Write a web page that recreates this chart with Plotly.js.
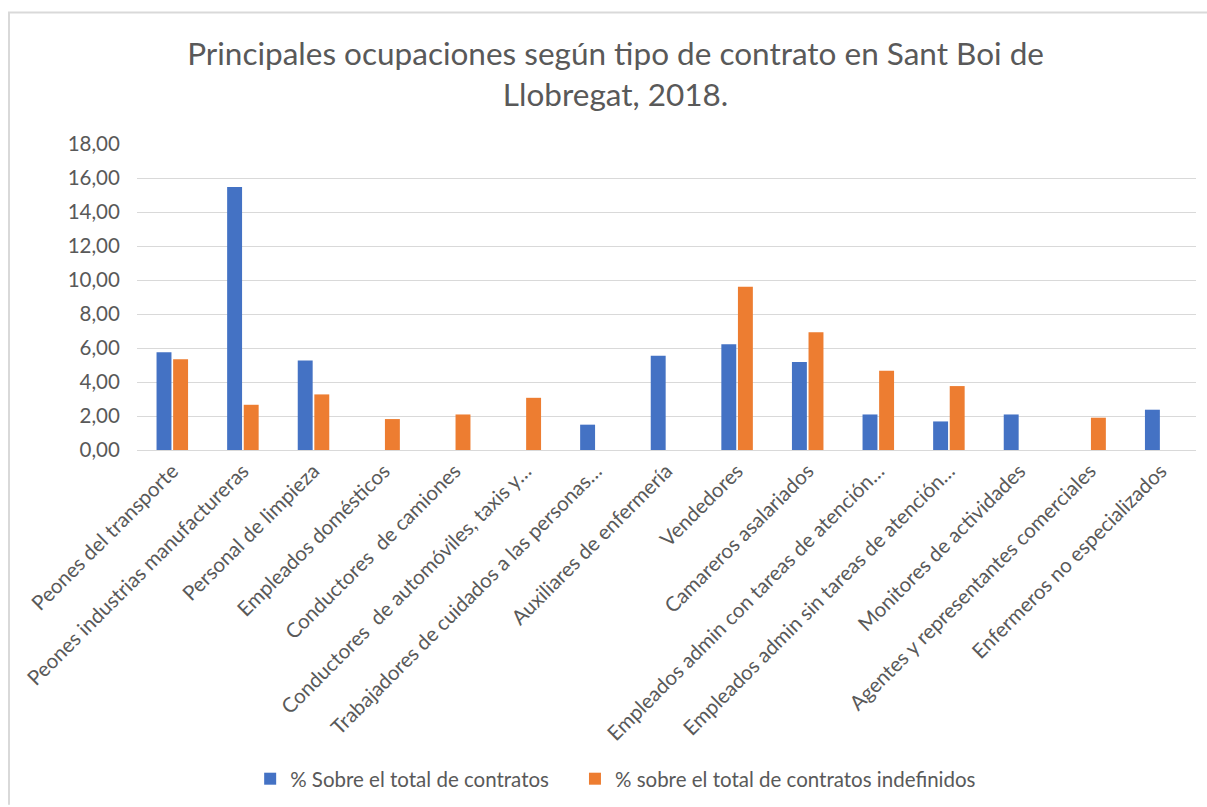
<!DOCTYPE html>
<html>
<head>
<meta charset="utf-8">
<script src="https://cdn.plot.ly/plotly-3.0.1.min.js"></script>
<style>
  html, body { margin: 0; padding: 0; background: #ffffff; }
  #chart { width: 1207px; height: 807px; }
</style>
</head>
<body>
<div id="chart"></div>
<script>
const categories = [
  "Peones del transporte",
  "Peones industrias manufactureras",
  "Personal de limpieza",
  "Empleados domésticos",
  "Conductores\u00a0 de camiones",
  "Conductores\u00a0 de automóviles, taxis y…",
  "Trabajadores de cuidados a las personas…",
  "Auxiliares de enfermería",
  "Vendedores",
  "Camareros asalariados",
  "Empleados admin con tareas de atención…",
  "Empleados admin sin tareas de atención…",
  "Monitores de actividades",
  "Agentes y representantes comerciales",
  "Enfermeros no especializados"
];
const seriesTotal = [5.75, 15.47, 5.26, null, null, null, 1.49, 5.54, 6.22, 5.18, 2.09, 1.68, 2.09, null, 2.37];
const seriesIndef = [5.34, 2.66, 3.27, 1.82, 2.09, 3.07, null, null, 9.60, 6.92, 4.66, 3.76, null, 1.90, null];
const seriesNames = ["% Sobre el total de contratos", "% sobre el total de contratos indefinidos"];
const yTicks = [0, 2, 4, 6, 8, 10, 12, 14, 16, 18];
const yTickLabels = ["0,00", "2,00", "4,00", "6,00", "8,00", "10,00", "12,00", "14,00", "16,00", "18,00"];

const FONT = "Lato, 'Open Sans', sans-serif";
const TXT = "#595959";

const traces = [
  { type: "bar", name: seriesNames[0] + "\u00a0\u00a0\u00a0\u00a0", x: categories, y: seriesTotal,
    marker: { color: "#4472C4" }, hoverinfo: "x+y" },
  { type: "bar", name: seriesNames[1], x: categories, y: seriesIndef,
    marker: { color: "#ED7D31" }, hoverinfo: "x+y" }
];

const layout = {
  width: 1207, height: 807,
  paper_bgcolor: "#ffffff", plot_bgcolor: "#ffffff",
  margin: { l: 137, r: 11, t: 144, b: 356, pad: 0 },
  font: { family: FONT, color: TXT, size: 20 },
  title: {
    text: "Principales ocupaciones según tipo de contrato en Sant Boi de<br>Llobregat, 2018.",
    font: { family: FONT, size: 31.5, color: TXT },
    x: 0.51, xanchor: "center", y: 0.92, yanchor: "top"
  },
  barmode: "group",
  bargap: 0.53,
  bargroupgap: 0.1,
  showlegend: true,
  legend: {
    orientation: "h", x: 0.452, xanchor: "center", y: -1.068, yanchor: "middle",
    font: { family: FONT, size: 20.5, color: TXT },
    traceorder: "normal"
  },
  xaxis: {
    type: "category",
    tickangle: -45,
    tickfont: { family: FONT, size: 20.5, color: TXT },
    showgrid: false,
    showline: true, linecolor: "#d9d9d9", linewidth: 1,
    ticks: "", automargin: false
  },
  yaxis: {
    range: [0, 18],
    tickvals: yTicks, ticktext: yTickLabels,
    tickfont: { family: FONT, size: 20.5, color: TXT },
    showgrid: true, gridcolor: "#d9d9d9", gridwidth: 1,
    zeroline: false, showline: false,
    ticks: "outside", ticklen: 12, tickcolor: "rgba(0,0,0,0)",
    automargin: false
  },
  shapes: [
    { type: "line", xref: "paper", yref: "paper",
      x0: (8 - 137) / 1059, x1: (1207 - 137) / 1059,
      y0: (451 - 12) / 307, y1: (451 - 12) / 307,
      line: { color: "#d9d9d9", width: 2 } },
    { type: "line", xref: "paper", yref: "paper",
      x0: (9 - 137) / 1059, x1: (9 - 137) / 1059,
      y0: (451 - 12) / 307, y1: (451 - 807) / 307,
      line: { color: "#d9d9d9", width: 2 } }
  ]
};

Plotly.newPlot("chart", traces, layout, { displayModeBar: false, staticPlot: true });
</script>
</body>
</html>
